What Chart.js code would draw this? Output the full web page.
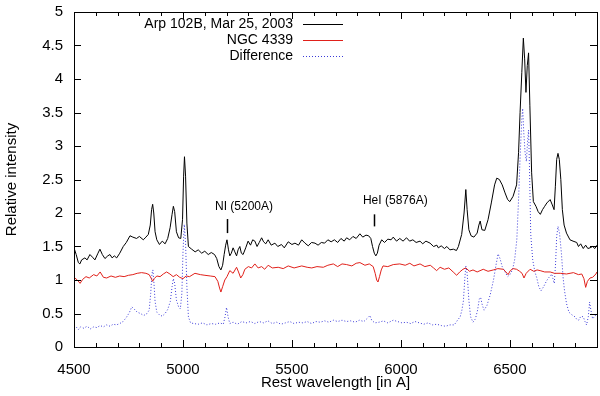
<!DOCTYPE html>
<html>
<head>
<meta charset="utf-8">
<script src="https://cdn.jsdelivr.net/npm/chart.js@4/dist/chart.umd.min.js"></script>
<style>
  html, body { margin: 0; padding: 0; background: #fff; }
  canvas { display: block; }
</style>
</head>
<body>
<canvas id="myChart" width="600" height="396"></canvas>
<script>
// Arp 102B spectrum (black)
const arpWl = [4500,4510,4520,4527,4535,4550,4560,4573,4585,4596,4610,4619,4630,4642,4655,4665,4675,4685,4696,4710,4726,4740,4757,4770,4787,4800,4818,4830,4841,4850,4856,4861,4866,4872,4880,4892,4905,4918,4930,4941,4950,4956,4962,4970,4980,4990,4998,5003,5007,5012,5018,5025,5040,5056,5070,5086,5100,5116,5130,5145,5155,5165,5174,5182,5189,5196,5202,5209,5215,5222,5230,5238,5246,5253,5261,5268,5276,5288,5299,5310,5320,5330,5340,5350,5361,5370,5380,5391,5405,5422,5435,5452,5465,5483,5500,5514,5530,5545,5560,5575,5590,5606,5620,5635,5650,5665,5680,5695,5710,5725,5740,5751,5765,5780,5795,5812,5825,5840,5852,5862,5870,5878,5885,5892,5900,5912,5925,5940,5955,5965,5980,5995,6010,6026,6040,6055,6070,6088,6100,6115,6134,6150,6165,6172,6185,6200,6211,6225,6241,6255,6264,6279,6290,6298,6304,6312,6322,6335,6350,6358,6364,6372,6385,6400,6415,6430,6440,6452,6465,6478,6490,6500,6515,6531,6540,6547,6555,6562,6568,6574,6580,6586,6592,6600,6608,6620,6630,6640,6650,6660,6670,6685,6695,6703,6709,6715,6721,6727,6734,6741,6749,6760,6776,6790,6807,6815,6825,6837,6848,6858,6868,6880,6890,6900];
const arpVal = [1.48,1.38,1.26,1.24,1.30,1.33,1.30,1.38,1.34,1.30,1.40,1.46,1.38,1.32,1.36,1.38,1.33,1.36,1.33,1.40,1.50,1.56,1.66,1.64,1.62,1.65,1.60,1.64,1.68,1.82,2.05,2.13,2.00,1.72,1.60,1.53,1.58,1.54,1.62,1.78,1.98,2.10,2.02,1.72,1.63,1.62,1.90,2.55,2.84,2.55,1.85,1.50,1.46,1.42,1.45,1.40,1.43,1.38,1.41,1.38,1.32,1.20,1.15,1.22,1.38,1.52,1.60,1.45,1.36,1.40,1.48,1.42,1.36,1.45,1.50,1.40,1.38,1.48,1.58,1.52,1.60,1.58,1.50,1.56,1.63,1.57,1.54,1.60,1.52,1.55,1.50,1.53,1.48,1.57,1.53,1.55,1.52,1.60,1.55,1.51,1.56,1.55,1.52,1.56,1.55,1.60,1.57,1.60,1.56,1.62,1.58,1.63,1.60,1.65,1.62,1.69,1.64,1.67,1.66,1.62,1.50,1.40,1.36,1.40,1.52,1.60,1.56,1.61,1.60,1.64,1.58,1.62,1.58,1.63,1.58,1.60,1.56,1.58,1.54,1.58,1.55,1.50,1.52,1.48,1.51,1.47,1.50,1.45,1.46,1.44,1.50,1.68,2.00,2.35,2.05,1.75,1.66,1.64,1.70,1.82,1.88,1.75,1.74,1.90,2.15,2.42,2.52,2.50,2.42,2.30,2.20,2.17,2.25,2.42,2.90,3.50,4.10,4.61,4.30,3.80,4.20,4.39,3.60,2.60,2.17,2.10,2.02,1.98,2.05,2.10,2.15,2.20,2.12,2.05,2.40,2.80,2.89,2.80,2.50,2.05,1.82,1.70,1.60,1.58,1.56,1.50,1.54,1.47,1.52,1.47,1.48,1.50,1.47,1.52];

// NGC 4339 spectrum (red)
const ngcWl = [4500,4515,4528,4540,4555,4570,4590,4605,4620,4635,4650,4670,4690,4710,4730,4750,4770,4790,4810,4830,4845,4855,4861,4868,4880,4895,4910,4925,4940,4955,4970,4985,5000,5015,5030,5055,5080,5101,5125,5147,5160,5168,5174,5182,5192,5202,5215,5230,5246,5255,5265,5275,5284,5300,5315,5330,5345,5361,5375,5391,5410,5437,5460,5483,5510,5545,5570,5591,5615,5644,5665,5690,5710,5730,5751,5775,5795,5812,5835,5855,5873,5882,5889,5895,5902,5910,5918,5940,5965,5995,6020,6041,6060,6088,6110,6135,6150,6164,6180,6200,6220,6240,6256,6270,6285,6298,6315,6331,6350,6378,6400,6424,6445,6470,6482,6492,6502,6515,6531,6545,6556,6565,6575,6593,6610,6625,6639,6660,6685,6705,6731,6760,6792,6815,6830,6840,6848,6856,6868,6880,6895,6900];
const ngcVal = [1.04,1.00,0.95,1.01,1.05,1.03,1.08,1.06,1.12,1.04,1.03,1.06,1.04,1.06,1.05,1.07,1.08,1.10,1.11,1.10,1.08,1.02,0.98,1.02,1.06,1.05,1.09,1.12,1.09,1.05,1.08,1.04,1.02,1.06,1.05,1.10,1.08,1.07,1.06,1.05,0.98,0.88,0.82,0.90,1.00,1.05,1.14,1.10,1.19,1.12,1.03,1.08,1.16,1.20,1.18,1.24,1.18,1.20,1.16,1.22,1.18,1.19,1.17,1.21,1.18,1.21,1.19,1.18,1.20,1.19,1.22,1.24,1.20,1.24,1.23,1.21,1.25,1.26,1.22,1.24,1.20,1.10,1.00,0.97,1.05,1.15,1.21,1.20,1.23,1.24,1.22,1.25,1.21,1.24,1.20,1.22,1.18,1.14,1.19,1.16,1.18,1.12,1.07,1.12,1.16,1.18,1.13,1.15,1.12,1.16,1.13,1.15,1.17,1.16,1.12,1.08,1.14,1.17,1.16,1.13,1.10,1.03,1.10,1.16,1.13,1.15,1.14,1.12,1.12,1.10,1.10,1.09,1.11,1.08,1.09,1.02,0.89,0.98,1.03,1.04,1.09,1.12];

// Difference (blue, dotted)
const diffWl = [4500,4510,4520,4530,4545,4560,4575,4590,4605,4620,4635,4650,4665,4680,4695,4710,4725,4740,4755,4765,4775,4790,4805,4820,4835,4845,4852,4858,4862,4867,4872,4880,4892,4905,4918,4930,4942,4950,4956,4962,4970,4980,4988,4995,5000,5006,5012,5018,5025,5035,5050,5070,5090,5110,5130,5150,5170,5185,5193,5200,5207,5215,5230,5250,5270,5290,5310,5330,5350,5370,5390,5410,5430,5450,5470,5490,5510,5530,5550,5570,5590,5610,5630,5650,5670,5690,5710,5730,5750,5770,5790,5810,5830,5850,5858,5866,5880,5900,5920,5940,5965,5985,6005,6025,6045,6065,6085,6105,6125,6145,6165,6185,6205,6225,6245,6260,6272,6280,6287,6293,6298,6304,6312,6320,6331,6342,6352,6360,6366,6374,6382,6395,6410,6425,6438,6446,6455,6465,6478,6490,6500,6512,6522,6532,6540,6548,6555,6559,6564,6570,6576,6582,6586,6590,6596,6605,6615,6623,6633,6643,6655,6669,6680,6692,6698,6704,6710,6715,6721,6728,6737,6744,6751,6760,6771,6785,6799,6808,6816,6826,6837,6845,6852,6860,6866,6872,6880,6890,6900];
const diffVal = [0.32,0.30,0.26,0.30,0.28,0.31,0.27,0.30,0.29,0.32,0.30,0.33,0.31,0.34,0.33,0.35,0.38,0.44,0.52,0.60,0.57,0.52,0.50,0.47,0.50,0.55,0.80,1.10,1.15,0.95,0.68,0.52,0.48,0.46,0.50,0.56,0.68,0.90,1.02,0.95,0.70,0.60,0.57,0.80,1.40,1.83,1.55,0.90,0.45,0.36,0.35,0.34,0.36,0.33,0.35,0.34,0.36,0.34,0.45,0.59,0.45,0.35,0.37,0.34,0.38,0.36,0.38,0.35,0.38,0.36,0.39,0.35,0.37,0.34,0.36,0.38,0.35,0.37,0.36,0.38,0.35,0.38,0.37,0.39,0.37,0.40,0.38,0.40,0.38,0.39,0.37,0.40,0.38,0.44,0.47,0.40,0.36,0.37,0.39,0.36,0.40,0.38,0.36,0.37,0.35,0.38,0.36,0.34,0.36,0.33,0.34,0.32,0.31,0.33,0.33,0.40,0.45,0.55,0.69,1.00,1.21,1.10,0.70,0.45,0.37,0.42,0.55,0.72,0.74,0.62,0.55,0.62,0.78,1.00,1.25,1.39,1.32,1.20,1.12,1.05,1.08,1.15,1.30,1.60,2.20,2.90,3.40,3.56,3.20,2.90,2.77,3.10,3.24,2.70,1.68,1.30,1.12,1.04,0.90,0.84,0.90,0.99,1.04,1.09,1.02,0.95,1.25,1.65,1.80,1.70,1.39,1.05,0.84,0.65,0.52,0.48,0.45,0.41,0.40,0.46,0.45,0.38,0.33,0.45,0.67,0.55,0.42,0.46,0.50];

const seriesLabels = ['Arp 102B, Mar 25, 2003', 'NGC 4339', 'Difference'];
const xTickLabels = [4500, 5000, 5500, 6000, 6500];
const yTickLabels = [0, 0.5, 1, 1.5, 2, 2.5, 3, 3.5, 4, 4.5, 5];

// line markers: text start, tick position, text height, tick range
const lineMarks = [
    { text: 'NI (5200A)', textWl: 5147, tickWl: 5202, textY: 2.1, tickTop: 1.91, tickBottom: 1.70 },
    { text: 'HeI (5876A)', textWl: 5826, tickWl: 5877, textY: 2.19, tickTop: 1.98, tickBottom: 1.80 }
];

const FONT = '"Liberation Sans", Arial, Helvetica, sans-serif';

function toPoints(xs, ys) {
    return xs.map((x, i) => ({ x: x, y: ys[i] }));
}

// gnuplot style frame, inward ticks, legend and line marks
const gnuplotFrame = {
    id: 'gnuplotFrame',
    afterDatasetsDraw(chart) {
        const ctx = chart.ctx;
        const a = chart.chartArea;
        const xs = chart.scales.x;
        const ys = chart.scales.y;
        ctx.save();
        ctx.strokeStyle = '#000';
        ctx.lineWidth = 1;
        ctx.setLineDash([]);
        ctx.strokeRect(Math.round(a.left) + 0.5, Math.round(a.top) + 0.5,
            Math.round(a.right - a.left), Math.round(a.bottom - a.top));

        ctx.beginPath();
        for (let w = 4500; w <= 6900; w += 100) {
            const px = Math.round(xs.getPixelForValue(w)) + 0.5;
            const len = (w % 500 === 0) ? 7 : 4;
            ctx.moveTo(px, a.bottom); ctx.lineTo(px, a.bottom - len);
            ctx.moveTo(px, a.top); ctx.lineTo(px, a.top + len);
        }
        yTickLabels.forEach(v => {
            const py = Math.round(ys.getPixelForValue(v)) + 0.5;
            ctx.moveTo(a.left, py); ctx.lineTo(a.left + 7, py);
            ctx.moveTo(a.right, py); ctx.lineTo(a.right - 7, py);
        });
        ctx.stroke();

        // legend
        ctx.font = '14px ' + FONT;
        ctx.fillStyle = '#000';
        ctx.textAlign = 'right';
        ctx.textBaseline = 'middle';
        chart.data.datasets.forEach((ds, i) => {
            const yy = 24 + i * 16;
            ctx.fillText(ds.label, 293, yy);
            ctx.beginPath();
            ctx.strokeStyle = ds.borderColor;
            ctx.setLineDash(ds.borderDash || []);
            ctx.moveTo(303, yy + 0.5);
            ctx.lineTo(343, yy + 0.5);
            ctx.stroke();
        });

        // line markers
        ctx.setLineDash([]);
        ctx.strokeStyle = '#000';
        ctx.font = '12px ' + FONT;
        ctx.textAlign = 'left';
        lineMarks.forEach(m => {
            ctx.fillText(m.text, xs.getPixelForValue(m.textWl), ys.getPixelForValue(m.textY));
            const px = Math.round(xs.getPixelForValue(m.tickWl)) + 0.5;
            ctx.beginPath();
            ctx.lineWidth = 1.5;
            ctx.moveTo(px, ys.getPixelForValue(m.tickTop));
            ctx.lineTo(px, ys.getPixelForValue(m.tickBottom));
            ctx.stroke();
        });
        ctx.restore();
    }
};

const ctx = document.getElementById('myChart').getContext('2d');
const myChart = new Chart(ctx, {
    type: 'line',
    data: {
        datasets: [{
            label: seriesLabels[0],
            data: toPoints(arpWl, arpVal),
            borderColor: '#000000',
            borderWidth: 1
        }, {
            label: seriesLabels[1],
            data: toPoints(ngcWl, ngcVal),
            borderColor: '#e0201a',
            borderWidth: 1
        }, {
            label: seriesLabels[2],
            data: toPoints(diffWl, diffVal),
            borderColor: '#3a3ad8',
            borderWidth: 1,
            borderDash: [1, 2]
        }]
    },
    options: {
        responsive: false,
        animation: false,
        devicePixelRatio: 1,
        layout: { padding: { left: 0, top: 9, right: 3, bottom: 0 } },
        elements: {
            point: { radius: 0 },
            line: { tension: 0 }
        },
        plugins: {
            legend: { display: false },
            tooltip: { enabled: false }
        },
        scales: {
            x: {
                type: 'linear',
                min: 4500,
                max: 6900,
                afterBuildTicks: (s) => { s.ticks = xTickLabels.map(v => ({ value: v })); },
                afterFit: (s) => { s.height = 49; },
                grid: { display: false },
                border: { display: false },
                ticks: {
                    color: '#000', font: { family: FONT, size: 15 }, padding: 6, maxRotation: 0,
                    callback: (v) => String(v)
                },
                title: {
                    display: true,
                    text: 'Rest wavelength [in A]',
                    color: '#000',
                    font: { family: FONT, size: 15 },
                    padding: { top: 0, bottom: 4 }
                }
            },
            y: {
                min: 0,
                max: 5,
                afterBuildTicks: (s) => { s.ticks = yTickLabels.map(v => ({ value: v })); },
                afterFit: (s) => { s.width = 74; },
                grid: { display: false },
                border: { display: false },
                ticks: {
                    color: '#000', font: { family: FONT, size: 15 }, padding: 3,
                    callback: (v) => String(v)
                },
                title: {
                    display: true,
                    text: 'Relative intensity',
                    color: '#000',
                    font: { family: FONT, size: 15 },
                    padding: { top: 3, bottom: 0 }
                }
            }
        }
    },
    plugins: [gnuplotFrame]
});
</script>
</body>
</html>
